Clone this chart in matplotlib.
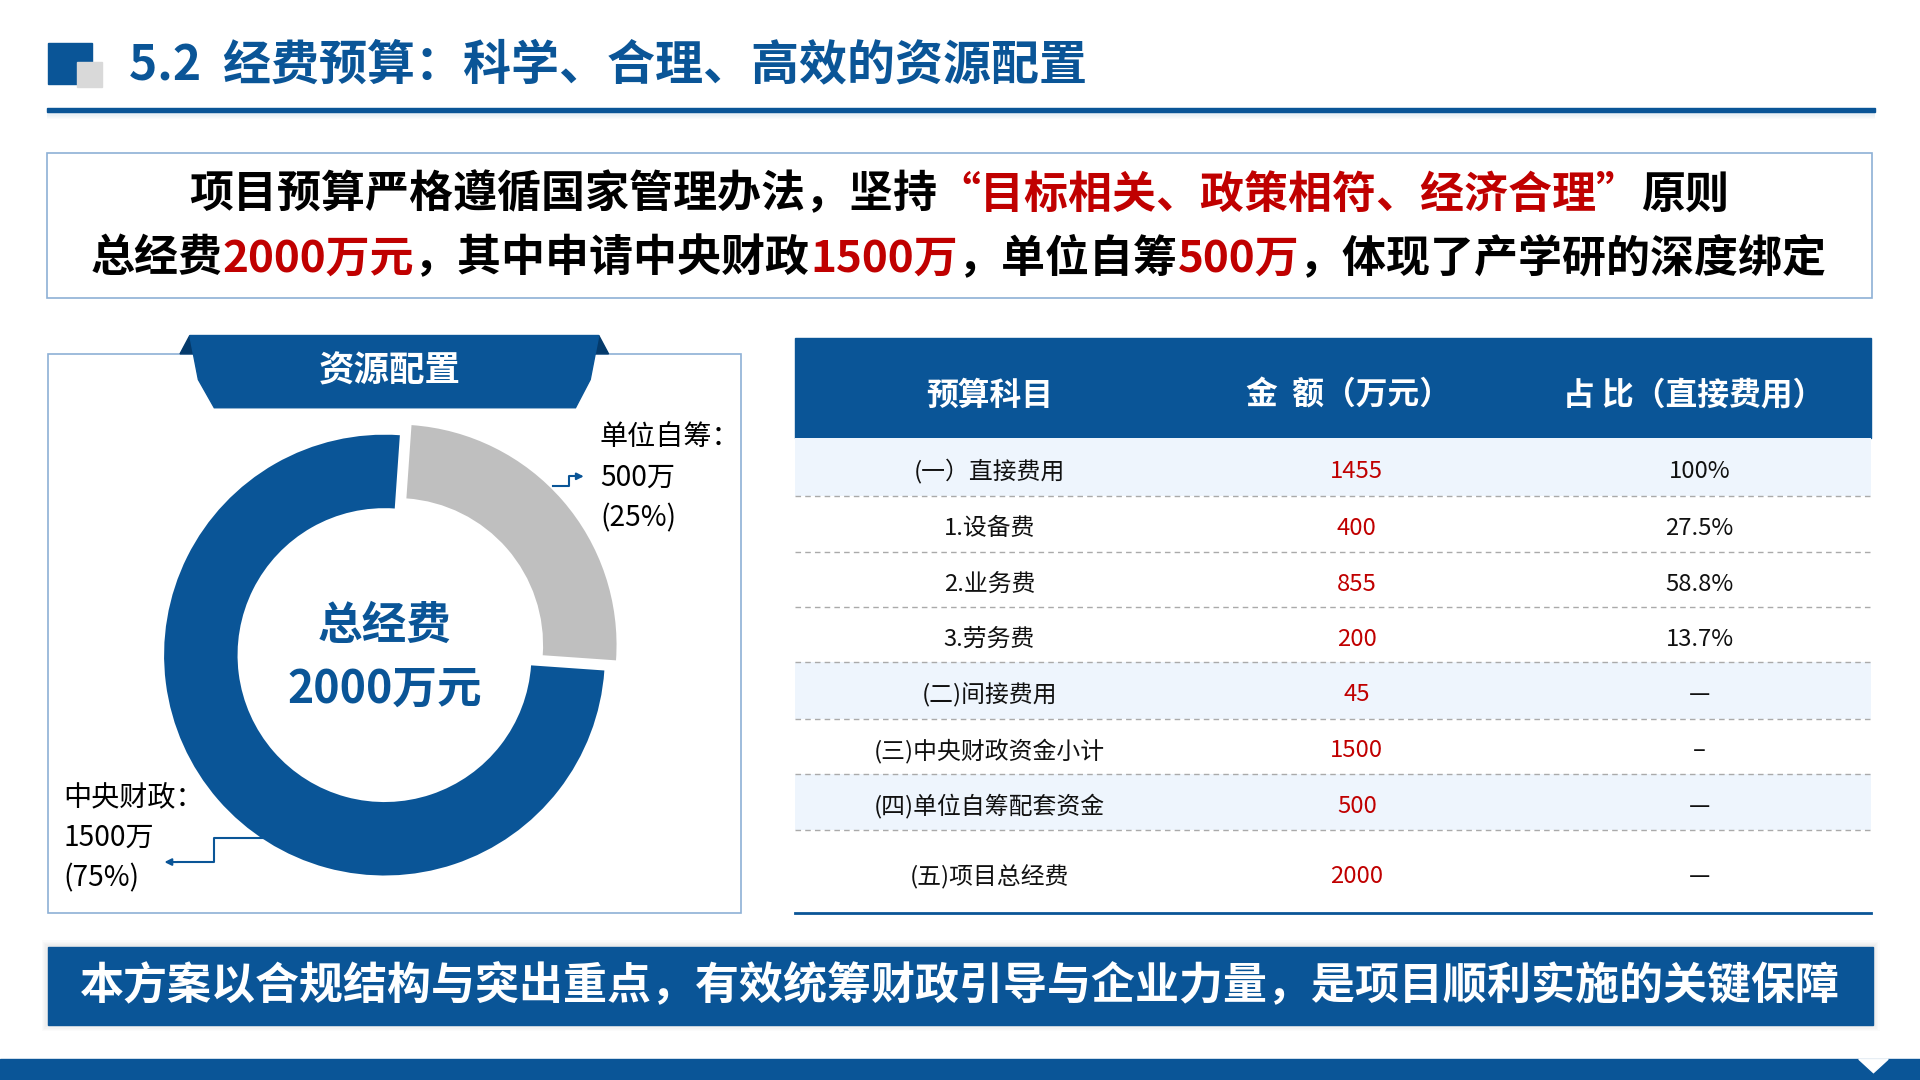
import matplotlib
matplotlib.use("Agg")
import matplotlib.pyplot as plt
from matplotlib.patches import Rectangle, Polygon

plt.rcParams['font.family'] = ['Noto Sans CJK SC', 'DejaVu Sans']

BLUE = '#0A5597'
RED = '#C00000'
GRAY = '#BFBFBF'
BORDER = '#8DB0D6'

title = "5.2  经费预算：科学、合理、高效的资源配置"
intro1 = [("项目预算严格遵循国家管理办法，坚持", 'k'), ("“目标相关、政策相符、经济合理”", RED), ("原则", 'k')]
intro2 = [("总经费", 'k'), ("2000万元", RED), ("，其中申请中央财政", 'k'), ("1500万", RED),
          ("，单位自筹", 'k'), ("500万", RED), ("，体现了产学研的深度绑定", 'k')]
pie_labels = ["单位自筹", "中央财政"]
pie_values = [500, 1500]
pie_pcts = ["25%", "75%"]
headers = ["预算科目", "金  额（万元）", "占 比（直接费用）"]
items = ["(一）直接费用", "1.设备费", "2.业务费", "3.劳务费", "(二)间接费用",
         "(三)中央财政资金小计", "(四)单位自筹配套资金", "(五)项目总经费"]
amounts = [1455, 400, 855, 200, 45, 1500, 500, 2000]
shares = ["100%", "27.5%", "58.8%", "13.7%", "—", "–", "—", "—"]
footer = "本方案以合规结构与突出重点，有效统筹财政引导与企业力量，是项目顺利实施的关键保障"

W, H = 1568, 882
fig = plt.figure(figsize=(19.2, 10.8), dpi=100)
ax = fig.add_axes([0, 0, 1, 1])
ax.set_xlim(0, W); ax.set_ylim(H, 0); ax.axis('off')
F = 0.88  # displayed px -> pt

# header
ax.add_patch(Rectangle((39, 35), 36, 34, color=BLUE, zorder=2))
ax.add_patch(Rectangle((63, 51), 20, 20, color='#D9D9D9', zorder=3))
ax.text(105, 53, title, fontsize=39.3*F, fontweight='bold', color=BLUE, va='center', ha='left')
ax.add_patch(Rectangle((38, 88), 1493, 3.5, color=BLUE))
for i in range(6):
    ax.add_patch(Rectangle((38, 91.5+i), 1493, 1, color=BLUE, alpha=0.12-0.02*i, lw=0))

# intro box
ax.add_patch(Rectangle((38, 125), 1491, 118, fill=False, ec=BORDER, lw=1.2))
fig.canvas.draw()
r = fig.canvas.get_renderer()
def rich(parts, y, size):
    ts = [ax.text(0, y, s, fontsize=size, fontweight='bold', color=c, va='center', ha='left') for s, c in parts]
    ws = [t.get_window_extent(r).width * W / 1920 for t in ts]
    x = 783 - sum(ws) / 2
    for t, w in zip(ts, ws):
        t.set_x(x); x += w
rich(intro1, 159, 36*F)
rich(intro2, 211, 36*F)

# left panel
ax.add_patch(Rectangle((39, 289), 566, 457, fill=False, ec=BORDER, lw=1.2))
ax.add_patch(Polygon([[147, 289], [155, 274], [165, 289]], color='#043A6B', zorder=3))
ax.add_patch(Polygon([[497, 289], [489, 274], [479, 289]], color='#043A6B', zorder=3))
ax.add_patch(Polygon([[155, 274], [489, 274], [482, 310], [470, 333], [175, 333], [162, 310]],
                     color=BLUE, zorder=4))
ax.text(318, 303, "资源配置", fontsize=29*F, fontweight='bold', color='white', ha='center', va='center', zorder=5)

# donut
cx, cy, R = 314, 535, 180
half = 1.25 * R
pax = fig.add_axes([(cx - half) / W, 1 - (cy + half) / H, 2 * half / W, 2 * half / H])
pax.pie(pie_values, colors=[GRAY, BLUE], startangle=86, counterclock=False,
        explode=[0.07, 0], radius=1, wedgeprops=dict(width=1/3, lw=0))
pax.set_xlim(-1.25, 1.25); pax.set_ylim(-1.25, 1.25); pax.set_aspect('auto'); pax.axis('off')
ax.text(314, 511, "总经费", fontsize=36.5*F, fontweight='bold', color=BLUE, ha='center', va='center')
ax.text(314, 563, "2000万元", fontsize=36.5*F, fontweight='bold', color=BLUE, ha='center', va='center')

lf = 23*F
ax.text(490, 357, pie_labels[0] + "：", fontsize=lf, ha='left', va='center')
ax.text(490, 390, f"{pie_values[0]}万", fontsize=lf, ha='left', va='center')
ax.text(490, 423, f"({pie_pcts[0]})", fontsize=lf, ha='left', va='center')
ax.plot([452, 465, 465, 470], [397, 397, 389, 389], color=BLUE, lw=1.5)
ax.annotate("", xy=(479, 389), xytext=(468, 389), arrowprops=dict(arrowstyle='-|>', color=BLUE, lw=1.5))
ax.text(52, 651, pie_labels[1] + "：", fontsize=lf, ha='left', va='center')
ax.text(52, 684, f"{pie_values[1]}万", fontsize=lf, ha='left', va='center')
ax.text(52, 717, f"({pie_pcts[1]})", fontsize=lf, ha='left', va='center')
ax.plot([215, 175, 175, 145], [684, 684, 704, 704], color=BLUE, lw=1.5)
ax.annotate("", xy=(132, 704), xytext=(147, 704), arrowprops=dict(arrowstyle='-|>', color=BLUE, lw=1.5))

# table
tx0, tx1 = 649, 1528
ax.add_patch(Rectangle((tx0, 276), tx1 - tx0, 82, color=BLUE))
for x, h in zip([808, 1101, 1383], headers):
    ax.text(x, 323, h, fontsize=26*F, fontweight='bold', color='white', ha='center', va='center')
bounds = [358, 405, 451, 496, 541, 587, 632, 678, 746]
shaded = {0, 4, 6}
for i in range(len(items)):
    y0, y1 = bounds[i], bounds[i+1]
    if i in shaded:
        ax.add_patch(Rectangle((tx0, y0), tx1 - tx0, y1 - y0, color='#EEF5FD', lw=0))
    yc = (y0 + y1) / 2 + (4 if i == 7 else 3.5)
    ax.text(808, yc, items[i], fontsize=19.5*F, ha='center', va='center', color='#111111')
    ax.text(1108, yc, str(amounts[i]), fontsize=19.5*F, ha='center', va='center', color=RED)
    ax.text(1388, yc, shares[i], fontsize=19.5*F, ha='center', va='center', color='#111111')
    if i < len(items) - 1:
        ax.plot([tx0, tx1], [y1, y1], color='#AAAAAA', lw=1, ls=(0, (4, 3)))
ax.plot([tx0, tx1], [746, 746], color=BLUE, lw=2)

# footer
for i in range(6):
    ax.add_patch(Rectangle((39 - i, 773 - i), 1491 + 2*i, 64 + 2*i, color='#000000', alpha=0.015, lw=0))
ax.add_patch(Rectangle((39, 773), 1491, 64, color=BLUE))
ax.text(784, 805, footer, fontsize=36*F, fontweight='bold', color='white', ha='center', va='center')
ax.add_patch(Rectangle((0, 865), W, 17, color=BLUE))
ax.add_patch(Polygon([[1518, 865], [1542, 865], [1530, 876]], color='white'))

fig.savefig("out.png", dpi=100)
